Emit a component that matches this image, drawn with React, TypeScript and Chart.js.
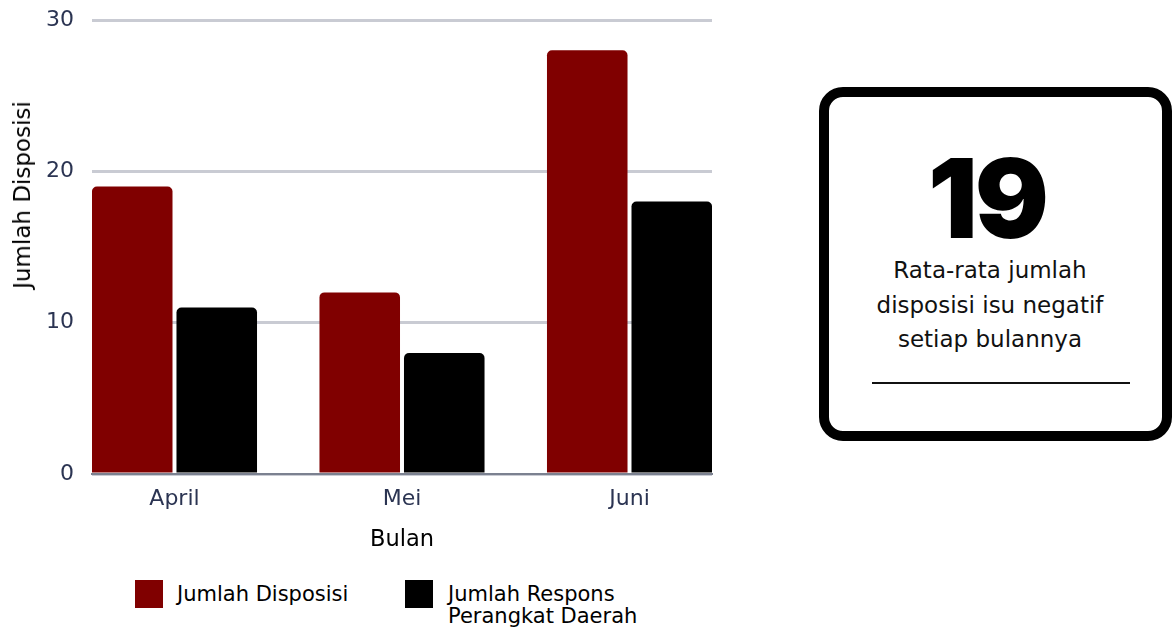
import React, { useEffect, useRef } from "react";
import { Chart, registerables } from "chart.js";

Chart.register(...registerables);

const categories = ["April", "Mei", "Juni"];
const jumlahDisposisi = [19, 12, 28];
const jumlahRespons = [11, 8, 18];
const yTicks = [0, 10, 20, 30];
const seriesNames = ["Jumlah Disposisi", "Jumlah Respons Perangkat Daerah"];
const averageValue = 19;

const RED = "#800000";
const BLACK = "#000000";
const TICK_COLOR = "#2b3452";
const FONT = "'DejaVu Sans', sans-serif";

export default function App() {
  const canvasRef = useRef<HTMLCanvasElement | null>(null);

  useEffect(() => {
    const canvas = canvasRef.current;
    if (!canvas) return;
    const chart = new Chart(canvas, {
      type: "bar",
      data: {
        datasets: [
          {
            label: seriesNames[0],
            data: jumlahDisposisi.map((v, i) => ({ x: i, y: v })),
            backgroundColor: RED,
            borderRadius: 5,
            borderSkipped: "start",
          },
          {
            label: seriesNames[1],
            data: jumlahRespons.map((v, i) => ({ x: i, y: v })),
            backgroundColor: BLACK,
            borderRadius: 5,
            borderSkipped: "start",
          },
        ],
      },
      options: {
        responsive: false,
        animation: false,
        categoryPercentage: 0.743,
        barPercentage: 0.953,
        layout: { padding: { left: 0, right: 8, top: 20, bottom: 0 } },
        plugins: {
          legend: { display: false },
          tooltip: { enabled: false },
        },
        scales: {
          x: {
            type: "linear",
            offset: false,
            min: -0.3626,
            max: 2.3626,
            afterBuildTicks: (scale: any) => {
              scale.ticks = categories.map((_, i) => ({ value: i }));
            },
            afterFit: (scale: any) => {
              scale.height = 80;
            },
            grid: { display: false, drawTicks: false },
            border: { display: true, color: "#7b8190", width: 2 },
            ticks: {
              padding: 12,
              color: TICK_COLOR,
              font: { family: FONT, size: 22 },
              callback: (v: any) => categories[Number(v)] ?? "",
            },
            title: {
              display: true,
              text: "Bulan",
              color: "#000",
              font: { family: FONT, size: 22.5 },
              padding: { top: 0, bottom: 0.5 },
            },
          },
          y: {
            min: 0,
            max: 30,
            afterBuildTicks: (scale: any) => {
              scale.ticks = yTicks.map((v) => ({ value: v }));
            },
            afterFit: (scale: any) => {
              scale.width = 92;
            },
            grid: {
              color: "#c9cbd3",
              lineWidth: 3,
              drawTicks: true,
              tickLength: 18,
              tickColor: "rgba(0,0,0,0)",
            },
            border: { display: false },
            ticks: {
              padding: 0,
              color: TICK_COLOR,
              font: { family: FONT, size: 22 },
            },
          },
        },
      },
    });
    return () => chart.destroy();
  }, []);

  return (
    <div style={{ position: "absolute", left: 0, top: 0, width: 1173, height: 627, background: "#fff", fontFamily: FONT }}>
      <canvas ref={canvasRef} width={720} height={554} style={{ position: "absolute", left: 0, top: 0, width: 720, height: 554 }} />
      <div
        style={{
          position: "absolute",
          left: 22,
          top: 195,
          transform: "translate(-50%, -50%) rotate(-90deg)",
          whiteSpace: "nowrap",
          fontSize: 23,
          color: "#000",
          lineHeight: "26px",
        }}
      >
        Jumlah Disposisi
      </div>

      {/* legend */}
      <div style={{ position: "absolute", left: 135, top: 580, width: 28, height: 28, background: RED }} />
      <div style={{ position: "absolute", left: 177, top: 583, fontSize: 21, lineHeight: "22px", color: "#000", whiteSpace: "nowrap" }}>
        {seriesNames[0]}
      </div>
      <div style={{ position: "absolute", left: 405, top: 580, width: 28, height: 28, background: BLACK }} />
      <div style={{ position: "absolute", left: 448, top: 583, fontSize: 21, lineHeight: "22px", color: "#000", whiteSpace: "nowrap" }}>
        Jumlah Respons
        <br />
        Perangkat Daerah
      </div>

      {/* card */}
      <div
        style={{
          position: "absolute",
          left: 819,
          top: 87,
          width: 353,
          height: 354,
          border: "10px solid #000",
          borderRadius: 24,
          boxSizing: "border-box",
        }}
      />
      <div
        style={{
          position: "absolute",
          left: 819,
          width: 336,
          top: 143,
          textAlign: "center",
          fontFamily: "Inter, sans-serif",
          fontWeight: 900,
          fontSize: 110,
          lineHeight: "110px",
          color: "#000",
          letterSpacing: -3,
        }}
      >
        {averageValue}
      </div>
      <div
        style={{
          position: "absolute",
          left: 819,
          width: 342,
          top: 253,
          textAlign: "center",
          fontSize: 23,
          lineHeight: "34.5px",
          color: "#111",
        }}
      >
        Rata-rata jumlah
        <br />
        disposisi isu negatif
        <br />
        setiap bulannya
      </div>
      <div style={{ position: "absolute", left: 872, top: 382, width: 258, height: 2, background: "#111" }} />
    </div>
  );
}
